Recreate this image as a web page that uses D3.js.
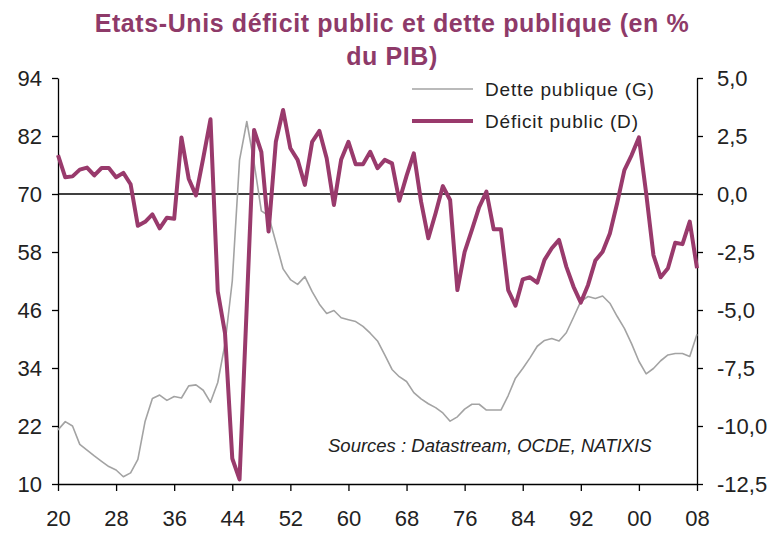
<!DOCTYPE html>
<html>
<head>
<meta charset="utf-8">
<script src="https://cdn.jsdelivr.net/npm/d3@7"></script>
<style>
body{margin:0;background:#fff;}
text{font-family:"Liberation Sans",Arial,sans-serif;}
</style>
</head>
<body>
<svg id="svg" width="775" height="533"></svg>
<script>
const years=d3.range(1920,2009);
const debt=[21.2,22.9,22.0,18.2,17.0,15.8,14.7,13.6,12.9,11.5,
 12.3,15.1,23.0,27.7,28.4,27.3,28.1,27.8,30.3,30.5,
 29.4,26.9,31.0,39.0,52.0,77.0,85.0,76.5,66.5,65.5,
 60.0,54.5,52.3,51.3,52.9,49.8,47.2,45.3,45.9,44.4,
 44.0,43.6,42.6,41.2,39.6,36.7,33.7,32.2,31.2,28.9,
 27.6,26.6,25.8,24.7,23.0,23.9,25.5,26.5,26.5,25.3,
 25.3,25.3,28.3,31.9,33.9,36.1,38.5,39.7,40.1,39.6,
 41.3,44.5,47.8,48.8,48.4,48.9,47.4,44.7,42.2,39.0,
 35.4,32.8,33.9,35.5,36.7,37.0,37.0,36.4,41.0];
const deficit=[1.68,0.72,0.76,1.05,1.14,0.80,1.12,1.12,0.72,0.91,
 0.42,-1.37,-1.20,-0.88,-1.48,-1.02,-1.07,2.44,0.66,-0.06,
 1.55,3.22,-4.2,-6.0,-11.4,-12.3,-4.8,2.76,1.82,-1.62,
 2.25,3.62,1.97,1.47,0.39,2.25,2.72,1.54,-0.47,1.49,
 2.25,1.28,1.28,1.82,1.11,1.47,1.32,-0.29,0.78,1.75,
 -0.33,-1.91,-0.83,0.34,-0.26,-4.14,-2.49,-1.55,-0.57,0.10,
 -1.52,-1.52,-4.14,-4.81,-3.68,-3.59,-3.82,-2.84,-2.34,-1.98,
 -3.13,-4.0,-4.68,-3.92,-2.87,-2.49,-1.70,-0.40,1.03,1.68,
 2.44,0.03,-2.63,-3.59,-3.20,-2.10,-2.16,-1.19,-3.20];
const xTicks=[1920,1928,1936,1944,1952,1960,1968,1976,1984,1992,2000,2008];
const xLabels=["20","28","36","44","52","60","68","76","84","92","00","08"];
const leftTicks=[10,22,34,46,58,70,82,94];
const rightTicks=[-12.5,-10,-7.5,-5,-2.5,0,2.5,5];
const rightLabels=["-12,5","-10,0","-7,5","-5,0","-2,5","0,0","2,5","5,0"];
const seriesNames=["Dette publique (G)","Déficit public (D)"];

const svg=d3.select("#svg");
const x=d3.scaleLinear().domain([1920,2008]).range([58,697]);
const yL=d3.scaleLinear().domain([10,94]).range([484,78]);
const yR=d3.scaleLinear().domain([-12.5,5]).range([484,78]);
const purple="#993a6c";

// title
svg.append("text").attr("x",392).attr("y",32).attr("text-anchor","middle")
  .style("font-size","25px").style("font-weight","bold").style("fill","#8e3a69")
  .style("letter-spacing","0.6px").text("Etats-Unis déficit public et dette publique (en %");
svg.append("text").attr("x",392).attr("y",65).attr("text-anchor","middle")
  .style("font-size","25px").style("font-weight","bold").style("fill","#8e3a69")
  .style("letter-spacing","0.6px").text("du PIB)");

// axes
const axL=d3.axisLeft(yL).tickValues(leftTicks).tickSize(6).tickSizeOuter(0).tickPadding(10);
const axR=d3.axisRight(yR).tickValues(rightTicks).tickSize(6).tickSizeOuter(0).tickPadding(14)
  .tickFormat((d,i)=>rightLabels[i]);
const axB=d3.axisBottom(x).tickValues(xTicks).tickSize(7).tickSizeOuter(0).tickPadding(19)
  .tickFormat((d,i)=>xLabels[i]);

const gL=svg.append("g").attr("transform","translate(58,0)").call(axL);
const gR=svg.append("g").attr("transform","translate(697,0)").call(axR);
const gB=svg.append("g").attr("transform","translate(0,484)").call(axB);
[gL,gR,gB].forEach(g=>{
  g.selectAll("path,line").attr("stroke","#000").attr("stroke-width",1.3);
  g.selectAll("text").style("font-size","22px").style("fill","#222").style("font-family","'Liberation Sans',Arial,sans-serif");
});

// zero line
svg.append("line").attr("x1",x(1920)).attr("x2",x(2008)).attr("y1",yR(0)).attr("y2",yR(0))
  .attr("stroke","#000").attr("stroke-width",1.3);

// series
const lineDebt=d3.line().x((d,i)=>x(years[i])).y(d=>yL(d));
const lineDef=d3.line().x((d,i)=>x(years[i])).y(d=>yR(d));
svg.append("path").attr("d",lineDebt(debt)).attr("fill","none").attr("stroke","#a3a3a3").attr("stroke-width",1.6).attr("stroke-linejoin","round");
svg.append("path").attr("d",lineDef(deficit)).attr("fill","none").attr("stroke",purple).attr("stroke-width",4).attr("stroke-linejoin","round");

// legend
svg.append("line").attr("x1",412).attr("x2",473).attr("y1",89).attr("y2",89).attr("stroke","#a3a3a3").attr("stroke-width",1.6);
svg.append("line").attr("x1",412).attr("x2",473).attr("y1",121).attr("y2",121).attr("stroke",purple).attr("stroke-width",4);
svg.append("text").attr("x",485).attr("y",96).style("font-size","19px").style("fill","#222").style("letter-spacing","0.8px").text(seriesNames[0]);
svg.append("text").attr("x",485).attr("y",128).style("font-size","19px").style("fill","#222").style("letter-spacing","0.8px").text(seriesNames[1]);

// source
svg.append("text").attr("x",328).attr("y",452).style("font-size","18.5px").style("font-style","italic").style("fill","#222")
  .text("Sources : Datastream, OCDE, NATIXIS");
</script>
</body>
</html>
